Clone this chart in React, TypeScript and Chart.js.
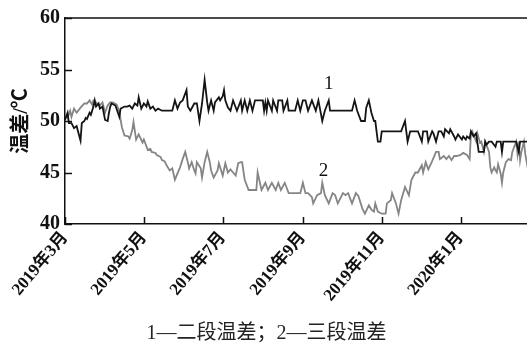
import React, { useEffect, useRef } from "react";
import { Chart, registerables } from "chart.js";

Chart.register(...registerables);

// x values are days counted from 2019-03-01
const tickDays = [0, 61, 122, 184, 245, 306];
const tickLabels = ["2019年3月", "2019年5月", "2019年7月", "2019年9月", "2019年11月", "2020年1月"];
const yMin = 40;
const yMax = 60;
const yStep = 5;
const xMax = 362;

const seriesNames = ["二段温差", "三段温差"];
const caption = "1—二段温差；2—三段温差";
const yTitle = "温差/℃";

// series 1: 二段温差
const s1Days = [0, 2, 3, 5, 7, 9, 12, 13, 15, 16, 17, 19, 20, 22, 23, 24, 26, 27, 29, 31, 33, 34, 35, 36, 39, 42, 43, 46, 48, 50, 52, 54, 56, 57, 59, 61, 63, 64, 66, 68, 70, 72, 75, 77, 83, 85, 87, 89, 91, 94, 95, 97, 100, 102, 104, 106, 108, 110, 111, 113, 115, 116, 119, 120, 122, 123, 124, 126, 128, 130, 133, 136, 137, 139, 141, 143, 145, 147, 153, 154, 155, 156, 157, 160, 161, 164, 165, 168, 169, 172, 173, 178, 180, 182, 184, 186, 188, 191, 194, 196, 199, 201, 204, 205, 222, 224, 226, 229, 232, 233, 235, 237, 239, 240, 241, 242, 244, 245, 260, 263, 264, 265, 267, 273, 276, 277, 280, 281, 284, 285, 287, 289, 291, 293, 294, 297, 298, 301, 302, 304, 307, 308, 310, 311, 313, 314, 316, 318, 320, 324, 325, 326, 328, 330, 333, 334, 337, 338, 339, 349, 351, 352, 358, 362];
const s1Vals = [50.1, 50.8, 49.8, 49.8, 49.3, 49.5, 48.1, 49.8, 50.0, 50.3, 50.2, 50.8, 50.6, 51.4, 52.0, 51.4, 51.7, 51.2, 51.4, 50.1, 50.0, 50.8, 51.4, 51.7, 51.5, 50.4, 51.2, 51.4, 51.4, 51.5, 51.2, 51.7, 51.5, 52.3, 51.2, 51.7, 51.4, 51.9, 51.2, 51.4, 51.0, 51.2, 51.0, 51.0, 51.0, 52.0, 51.2, 51.8, 52.0, 53.0, 51.4, 51.0, 51.7, 51.7, 50.0, 51.7, 54.0, 51.8, 51.0, 52.0, 51.0, 51.8, 52.3, 52.0, 52.4, 53.0, 52.0, 51.3, 51.0, 52.0, 51.0, 52.0, 51.0, 52.0, 51.0, 52.0, 51.0, 52.0, 52.0, 51.0, 51.8, 51.0, 52.0, 51.0, 52.0, 51.0, 52.0, 52.0, 51.0, 52.0, 51.0, 51.0, 52.0, 51.0, 52.0, 52.0, 51.0, 52.0, 51.0, 52.0, 50.0, 51.0, 52.0, 51.0, 51.0, 52.0, 51.0, 50.0, 50.0, 51.3, 52.0, 50.8, 50.0, 50.0, 49.0, 48.0, 48.0, 49.0, 49.0, 50.0, 49.0, 48.0, 49.0, 49.0, 48.0, 49.0, 49.0, 48.0, 49.0, 48.8, 48.0, 49.0, 49.0, 48.5, 49.2, 48.8, 49.2, 48.5, 48.2, 48.7, 48.2, 48.5, 48.2, 48.5, 48.3, 49.0, 48.5, 48.8, 47.0, 47.0, 48.0, 47.7, 48.0, 48.0, 47.5, 48.0, 48.0, 47.0, 48.0, 48.0, 47.0, 48.0, 48.0, 48.0];

// series 2: 三段温差
const s2Days = [0, 2, 4, 5, 7, 9, 12, 15, 17, 19, 21, 22, 25, 27, 29, 31, 33, 35, 37, 40, 42, 44, 46, 49, 50, 52, 53, 55, 57, 60, 61, 64, 66, 67, 70, 71, 74, 75, 77, 79, 81, 83, 85, 88, 89, 91, 93, 95, 96, 98, 100, 101, 102, 105, 106, 108, 110, 112, 113, 115, 118, 119, 120, 122, 124, 126, 128, 130, 132, 134, 136, 137, 139, 142, 148, 149, 152, 155, 157, 160, 163, 165, 167, 170, 173, 182, 184, 186, 188, 191, 192, 195, 198, 199, 201, 204, 207, 209, 211, 215, 217, 219, 222, 225, 227, 230, 232, 235, 237, 239, 240, 242, 245, 248, 249, 252, 253, 256, 258, 260, 263, 266, 268, 271, 273, 276, 277, 279, 281, 284, 287, 289, 290, 293, 295, 297, 299, 301, 303, 306, 308, 311, 313, 314, 315, 318, 319, 321, 322, 324, 325, 328, 329, 330, 332, 333, 334, 335, 337, 338, 339, 341, 343, 345, 346, 349, 350, 351, 352, 353, 355, 356, 358, 361];
const s2Vals = [50.5, 50.3, 51.0, 50.4, 51.2, 50.8, 51.3, 51.7, 51.7, 52.0, 51.6, 52.0, 51.7, 51.5, 51.8, 50.8, 51.5, 51.8, 51.8, 51.6, 50.9, 49.4, 48.6, 48.5, 48.3, 49.1, 49.9, 48.2, 48.7, 47.9, 48.2, 47.2, 47.3, 47.0, 46.9, 46.7, 46.5, 46.2, 46.1, 45.6, 45.2, 45.4, 44.3, 45.2, 45.5, 46.3, 47.0, 46.0, 45.4, 46.0, 45.2, 44.9, 46.0, 45.4, 44.5, 46.0, 47.0, 46.0, 45.2, 44.5, 45.2, 45.9, 45.5, 44.7, 45.9, 45.0, 45.3, 45.0, 44.7, 45.9, 46.0, 46.0, 44.3, 43.3, 43.3, 45.0, 43.3, 44.0, 43.3, 44.0, 43.3, 44.0, 43.3, 44.0, 43.0, 43.0, 44.0, 43.0, 43.0, 42.6, 42.0, 42.8, 43.0, 44.0, 42.8, 42.0, 43.0, 42.8, 42.0, 43.0, 42.8, 43.0, 42.0, 43.0, 42.7, 41.5, 41.0, 41.8, 41.4, 41.2, 42.0, 41.2, 41.0, 41.0, 42.0, 42.3, 43.0, 42.0, 41.0, 42.3, 43.6, 42.8, 44.3, 45.0, 45.0, 45.7, 45.0, 46.0, 45.3, 46.1, 47.0, 47.0, 46.3, 46.6, 46.3, 46.6, 46.2, 46.6, 46.6, 46.7, 46.9, 46.7, 46.3, 48.8, 49.0, 48.0, 48.8, 47.9, 48.0, 47.0, 48.0, 47.0, 45.5, 45.0, 45.5, 45.2, 45.0, 45.8, 44.9, 44.0, 45.0, 46.0, 46.3, 46.2, 47.0, 48.0, 46.8, 48.0, 46.2, 47.0, 48.0, 46.8, 45.4, 45.0];

// curve labels, in data units (day, value)
const curveLabels = ["1", "2"];
const curveLabelDays = [204, 200];
const curveLabelVals = [53.6, 45.1];

const SERIF = '"Liberation Serif", "Times New Roman", "Noto Sans CJK SC"';

const framePlugin = {
  id: "frameTicks",
  afterDatasetsDraw(chart: any) {
    const { ctx, chartArea, scales } = chart;
    const { left, right, top, bottom } = chartArea;
    const x = scales.x;
    const y = scales.y;
    ctx.save();
    ctx.strokeStyle = "#111";
    ctx.lineWidth = 1.5;
    ctx.beginPath();
    ctx.moveTo(left, top);
    ctx.lineTo(right, top);
    ctx.stroke();
    ctx.beginPath();
    x.ticks.forEach((t: any) => {
      const px = Math.round(x.getPixelForValue(t.value)) + 0.5;
      ctx.moveTo(px, bottom);
      ctx.lineTo(px, bottom - 7);
    });
    y.ticks.forEach((t: any) => {
      const py = Math.round(y.getPixelForValue(t.value)) + 0.5;
      ctx.moveTo(left, py);
      ctx.lineTo(left + 7, py);
    });
    ctx.stroke();
    ctx.font = `19px ${SERIF}`;
    ctx.fillStyle = "#111";
    ctx.textAlign = "center";
    ctx.textBaseline = "middle";
    curveLabels.forEach((txt, i) => {
      ctx.fillText(txt, x.getPixelForValue(curveLabelDays[i]), y.getPixelForValue(curveLabelVals[i]));
    });
    ctx.restore();
  },
};

export default function App() {
  const ref = useRef<HTMLCanvasElement | null>(null);
  useEffect(() => {
    if (!ref.current) return;
    const chart = new Chart(ref.current, {
      type: "line",
      data: {
        datasets: [
          {
            label: seriesNames[0],
            data: s1Days.map((d, i) => ({ x: d, y: s1Vals[i] })),
            borderColor: "#141414",
            borderWidth: 1.8,
            pointRadius: 0,
            tension: 0,
            fill: false,
          },
          {
            label: seriesNames[1],
            data: s2Days.map((d, i) => ({ x: d, y: s2Vals[i] })),
            borderColor: "#858585",
            borderWidth: 1.8,
            pointRadius: 0,
            tension: 0,
            fill: false,
          },
        ],
      },
      options: {
        responsive: false,
        animation: false,
        layout: { padding: { top: 18, left: 0, right: 0, bottom: 0 } },
        plugins: {
          legend: { display: false },
          tooltip: { enabled: false },
          title: {
            display: true,
            text: caption,
            position: "bottom",
            color: "#222",
            padding: 0,
            font: { family: SERIF, size: 20, weight: "normal", lineHeight: 1 },
          },
        },
        scales: {
          x: {
            type: "linear",
            min: 0,
            max: xMax,
            grid: { display: false, drawTicks: false },
            border: { display: true, color: "#111", width: 1.5 },
            afterBuildTicks: (scale: any) => {
              scale.ticks = tickDays.map((v) => ({ value: v }));
            },
            afterFit: (scale: any) => {
              scale.height = 100;
            },
            ticks: {
              autoSkip: false,
              maxRotation: 50,
              minRotation: 50,
              padding: 4,
              color: "#111",
              font: { family: SERIF, size: 17, weight: "bold" },
              callback: (v: any) => {
                const i = tickDays.indexOf(Number(v));
                return i >= 0 ? tickLabels[i] : "";
              },
            },
          },
          y: {
            min: yMin,
            max: yMax,
            grid: { display: false, drawTicks: false },
            border: { display: true, color: "#111", width: 1.5 },
            afterFit: (scale: any) => {
              scale.width = 65;
            },
            ticks: {
              stepSize: yStep,
              padding: 5,
              color: "#111",
              font: { family: SERIF, size: 20, weight: "bold" },
            },
            title: {
              display: true,
              text: yTitle,
              color: "#111",
              padding: { top: 10, bottom: 0 },
              font: { family: SERIF, size: 20, weight: "bold" },
            },
          },
        },
      },
      plugins: [framePlugin],
    });
    return () => chart.destroy();
  }, []);

  return (
    <div style={{ position: "fixed", left: 0, top: 0, width: 527, height: 344, overflow: "hidden", background: "#fff" }}>
      <canvas ref={ref} width={533} height={344} style={{ display: "block", width: 533, height: 344 }} />
    </div>
  );
}
